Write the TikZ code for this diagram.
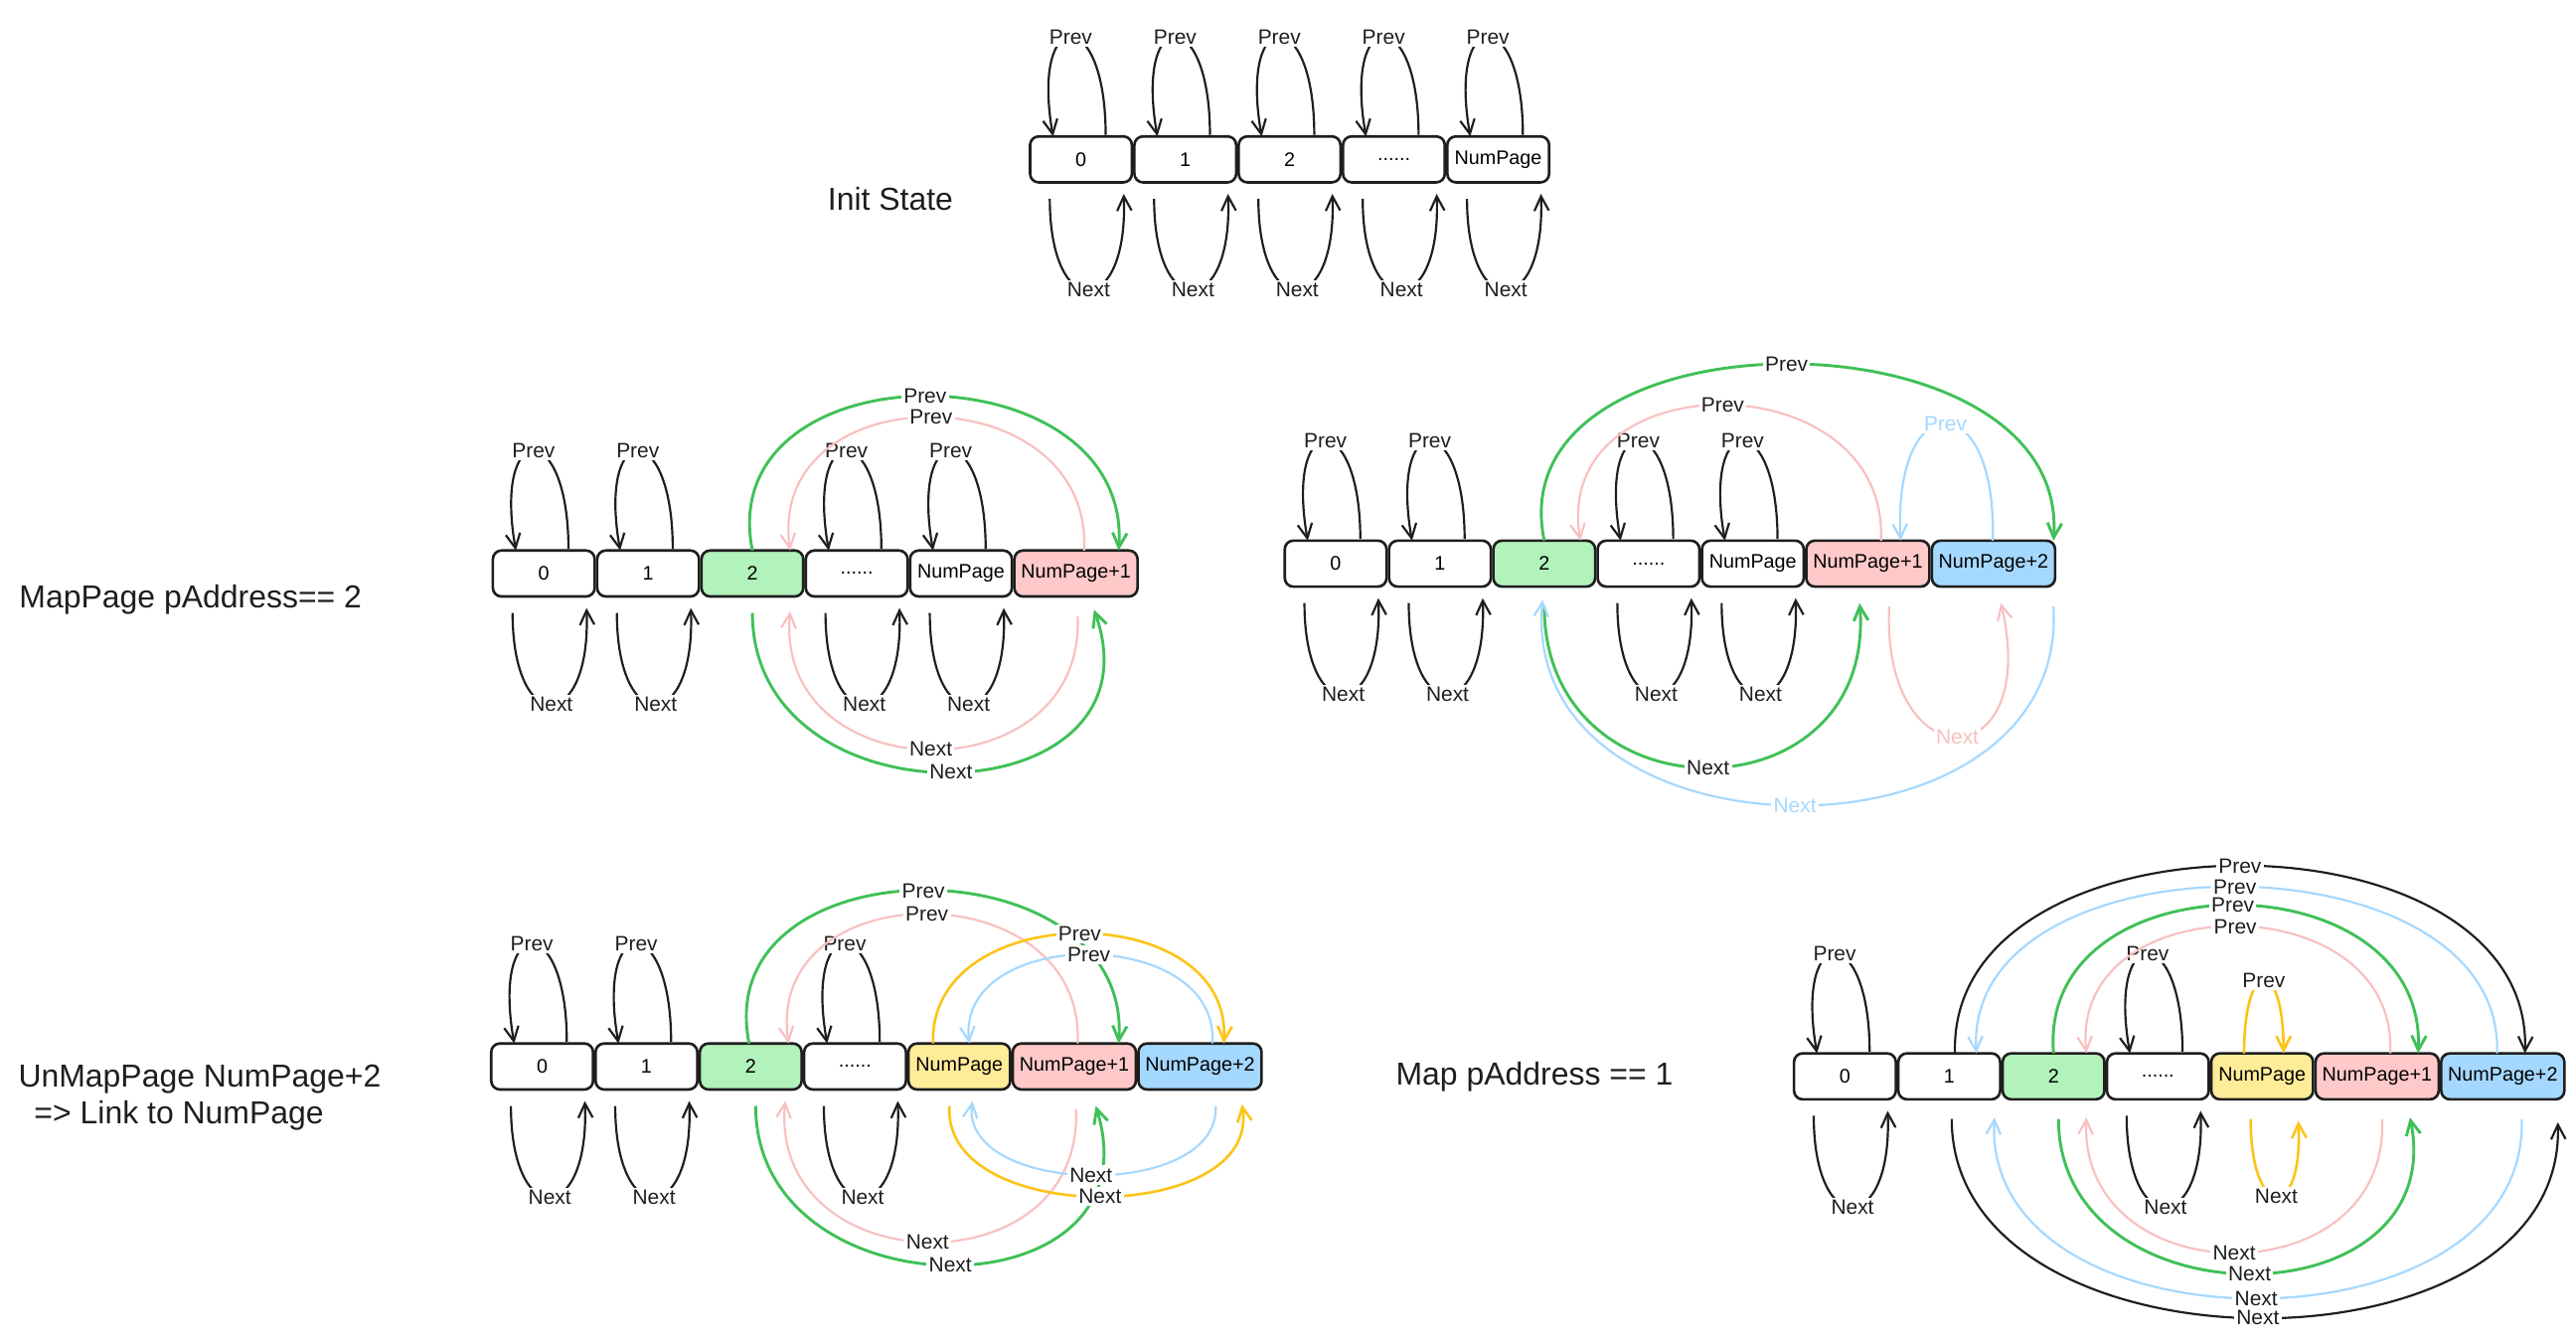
\documentclass[tikz,border=0pt]{standalone}
\usepackage{fontspec}
\setmainfont{Liberation Sans}
\usetikzlibrary{positioning,calc,arrows.meta}
\definecolor{ink}{HTML}{1E1E1E}
\definecolor{greenline}{HTML}{40C057}
\definecolor{greenfill}{HTML}{B2F2BB}
\definecolor{pinkline}{HTML}{F8C0C0}
\definecolor{pinkfill}{HTML}{FFC9C9}
\definecolor{blueline}{HTML}{A5D8FF}
\definecolor{bluefill}{HTML}{A5D8FF}
\definecolor{yellowline}{HTML}{FCC419}
\definecolor{yellowfill}{HTML}{FFEC99}

\tikzset{
  page/.style={draw=ink, line width=0.9pt, rounded corners=3pt, fill=white,
    minimum width=1.24cm, minimum height=0.56cm, inner sep=0pt, outer sep=0pt,
    font=\fontsize{6.8}{8}\selectfont},
  widepage/.style={page, minimum width=1.5cm},
  lnk/.style={line width=0.75pt, -{Straight Barb[length=5pt,width=5pt]}},
  kline/.style={lnk, draw=ink},
  gline/.style={lnk, draw=greenline, line width=1pt},
  pline/.style={lnk, draw=pinkline},
  bline/.style={lnk, draw=blueline},
  yline/.style={lnk, draw=yellowline, line width=0.9pt},
  lbl/.style={fill=white, inner sep=0.8pt, text=ink, font=\fontsize{7.2}{8}\selectfont},
  title/.style={font=\fontsize{11}{13}\selectfont, text=ink},
}

% self loops of one page
\newcommand{\prevloop}[1]{%
  \draw[kline] ($(#1.north west)+(46,-1)$) .. controls +(0,-80) and +(-14,-80) .. node[lbl,midway]{Prev} ($(#1.north west)+(14,0)$);}
\newcommand{\nextloop}[1]{%
  \draw[kline] ($(#1.south west)+(12,10)$) .. controls +(0,76) and +(3,76) .. node[lbl,midway]{Next} ($(#1.south west)+(57,7)$);}

\begin{document}
\begin{tikzpicture}[x=0.02cm,y=-0.02cm]
  \useasboundingbox (0,0) rectangle (1568,817);

  % Init State
  \node[title] (tinit) at (542,121) {Init State};
  \node[page,anchor=west] (a0) at (627,97) {0};
  \node[page,right=0.03cm of a0] (a1) {1};
  \node[page,right=0.03cm of a1] (a2) {2};
  \node[page,right=0.03cm of a2] (a3) {......};
  \node[page,right=0.03cm of a3] (a4) {NumPage};

  % MapPage pAddress == 2
  \node[title] (tmap) at (116,365) {MapPage pAddress== 2};
  \node[page,anchor=west] (b0) at (300,349) {0};
  \node[page,right=0.03cm of b0] (b1) {1};
  \node[page,right=0.03cm of b1,fill=greenfill] (b2) {2};
  \node[page,right=0.03cm of b2] (b3) {......};
  \node[page,right=0.03cm of b3] (b4) {NumPage};
  \node[widepage,right=0.03cm of b4,fill=pinkfill] (b5) {NumPage+1};

  % second map
  \node[page,anchor=west] (c0) at (782,343) {0};
  \node[page,right=0.03cm of c0] (c1) {1};
  \node[page,right=0.03cm of c1,fill=greenfill] (c2) {2};
  \node[page,right=0.03cm of c2] (c3) {......};
  \node[page,right=0.03cm of c3] (c4) {NumPage};
  \node[widepage,right=0.03cm of c4,fill=pinkfill] (c5) {NumPage+1};
  \node[widepage,right=0.03cm of c5,fill=bluefill] (c6) {NumPage+2};

  % UnMapPage
  \node[title,align=left,anchor=west] (tunmap) at (5,668) {UnMapPage NumPage+2\\\hspace*{0.5em}=> Link to NumPage};
  \node[page,anchor=west] (d0) at (299,649) {0};
  \node[page,right=0.03cm of d0] (d1) {1};
  \node[page,right=0.03cm of d1,fill=greenfill] (d2) {2};
  \node[page,right=0.03cm of d2] (d3) {......};
  \node[page,right=0.03cm of d3,fill=yellowfill] (d4) {NumPage};
  \node[widepage,right=0.03cm of d4,fill=pinkfill] (d5) {NumPage+1};
  \node[widepage,right=0.03cm of d5,fill=bluefill] (d6) {NumPage+2};

  % Map pAddress == 1
  \node[title] (tmapone) at (934,655) {Map pAddress == 1};
  \node[page,anchor=west] (e0) at (1092,655) {0};
  \node[page,right=0.03cm of e0] (e1) {1};
  \node[page,right=0.03cm of e1,fill=greenfill] (e2) {2};
  \node[page,right=0.03cm of e2] (e3) {......};
  \node[page,right=0.03cm of e3,fill=yellowfill] (e4) {NumPage};
  \node[widepage,right=0.03cm of e4,fill=pinkfill] (e5) {NumPage+1};
  \node[widepage,right=0.03cm of e5,fill=bluefill] (e6) {NumPage+2};

  \foreach \n in {a0,a1,a2,a3,a4,b0,b1,b3,b4,c0,c1,c3,c4,d0,d1,d3,e0,e3}{\prevloop{\n}\nextloop{\n}}

  % links, MapPage 2
  \draw[gline] ($(b2.north west)+(31,0)$) .. controls +(-25,-125) and +(8,-125) .. node[lbl,midway]{Prev} ($(b5.north west)+(63.5,0)$);
  \draw[pline] ($(b5.north west)+(42.5,0)$) .. controls +(5,-108) and +(-15,-108) .. node[lbl,midway]{Prev} ($(b2.north west)+(54,0)$);
  \draw[gline] ($(b2.south west)+(31,10)$) .. controls +(0,133) and +(45,128) .. node[lbl,midway]{Next} ($(b5.south west)+(48.5,8)$);
  \draw[pline] ($(b5.south west)+(38.5,12)$) .. controls +(5,110) and +(-10,110) .. node[lbl,midway]{Next} ($(b2.south west)+(54,9)$);

  % links, second map
  \draw[gline] ($(c2.north west)+(31,0)$) .. controls +(-30,-143) and +(10,-143) .. node[lbl,midway]{Prev} ($(c6.north west)+(74,0)$);
  \draw[pline] ($(c5.north west)+(45.5,0)$) .. controls +(5,-110) and +(-18,-110) .. node[lbl,midway]{Prev} ($(c2.north west)+(53,0)$);
  \draw[bline] ($(c6.north west)+(37,0)$) .. controls +(3,-95) and +(-5,-95) .. node[lbl,midway,text=blueline]{Prev} ($(c5.north west)+(57.5,0)$);
  \draw[gline] ($(c2.south west)+(31,12)$) .. controls +(0,132) and +(10,132) .. node[lbl,midway]{Next} ($(c5.south west)+(32.5,10)$);
  \draw[pline] ($(c5.south west)+(50.5,12)$) .. controls +(-5,107) and +(25,107) .. node[lbl,midway,text=pinkline]{Next} ($(c6.south west)+(42,10)$);
  \draw[bline] ($(c6.south west)+(74,12)$) .. controls +(10,164) and +(-15,164) .. node[lbl,midway,text=blueline]{Next} ($(c2.south west)+(30,8)$);

  % links, UnMapPage
  \draw[gline] ($(d2.north west)+(30,0)$) .. controls +(-25,-124) and +(8,-124) .. node[lbl,midway]{Prev} ($(d5.north west)+(64.5,0)$);
  \draw[pline] ($(d5.north west)+(39.5,0)$) .. controls +(5,-105) and +(-15,-105) .. node[lbl,midway]{Prev} ($(d2.north west)+(54,0)$);
  \draw[yline] ($(d4.north west)+(15,0)$) .. controls +(-3,-89) and +(5,-89) .. node[lbl,midway]{Prev} ($(d6.north west)+(52,0)$);
  \draw[bline] ($(d6.north west)+(45,0)$) .. controls +(5,-72) and +(-8,-72) .. node[lbl,midway]{Prev} ($(d4.north west)+(37,0)$);
  \draw[gline] ($(d2.south west)+(34,10)$) .. controls +(0,129) and +(40,129) .. node[lbl,midway]{Next} ($(d5.south west)+(50.5,10)$);
  \draw[pline] ($(d5.south west)+(38.5,12)$) .. controls +(5,111) and +(-10,111) .. node[lbl,midway]{Next} ($(d2.south west)+(52,7)$);
  \draw[yline] ($(d4.south west)+(25,10)$) .. controls +(-5,74) and +(12,74) .. node[lbl,midway]{Next} ($(d6.south west)+(63,9)$);
  \draw[bline] ($(d6.south west)+(47,10)$) .. controls +(3,58) and +(-8,58) .. node[lbl,midway]{Next} ($(d4.south west)+(39,7)$);

  % links, Map 1
  \draw[kline] ($(e1.north west)+(34.5,0)$) .. controls +(-5,-152) and +(5,-152) .. node[lbl,midway]{Prev} ($(e6.north west)+(51,0)$);
  \draw[bline] ($(e6.north west)+(34,0)$) .. controls +(5,-135) and +(-8,-135) .. node[lbl,midway]{Prev} ($(e1.north west)+(47.5,0)$);
  \draw[gline] ($(e2.north west)+(31,0)$) .. controls +(-10,-120) and +(5,-120) .. node[lbl,midway]{Prev} ($(e5.north west)+(62.5,0)$);
  \draw[pline] ($(e5.north west)+(45.5,0)$) .. controls +(5,-103) and +(-10,-103) .. node[lbl,midway]{Prev} ($(e2.north west)+(51,0)$);
  \draw[yline] ($(e4.north west)+(20,0)$) .. controls +(0,-59) and +(0,-59) .. node[lbl,midway]{Prev} ($(e4.north west)+(44,0)$);
  \draw[kline] ($(e1.south west)+(32.5,12)$) .. controls +(0,160) and +(5,160) .. node[lbl,midway]{Next} ($(e6.south west)+(71,14)$);
  \draw[bline] ($(e6.south west)+(49,12)$) .. controls +(5,146) and +(-8,146) .. node[lbl,midway]{Next} ($(e1.south west)+(58.5,11)$);
  \draw[gline] ($(e2.south west)+(34,12)$) .. controls +(0,126) and +(25,126) .. node[lbl,midway]{Next} ($(e5.south west)+(57.5,11)$);
  \draw[pline] ($(e5.south west)+(40.5,12)$) .. controls +(5,109) and +(-5,109) .. node[lbl,midway]{Next} ($(e2.south west)+(51,11)$);
  \draw[yline] ($(e4.south west)+(24,12)$) .. controls +(0,62) and +(3,62) .. node[lbl,midway]{Next} ($(e4.south west)+(53,13)$);
\end{tikzpicture}
\end{document}
